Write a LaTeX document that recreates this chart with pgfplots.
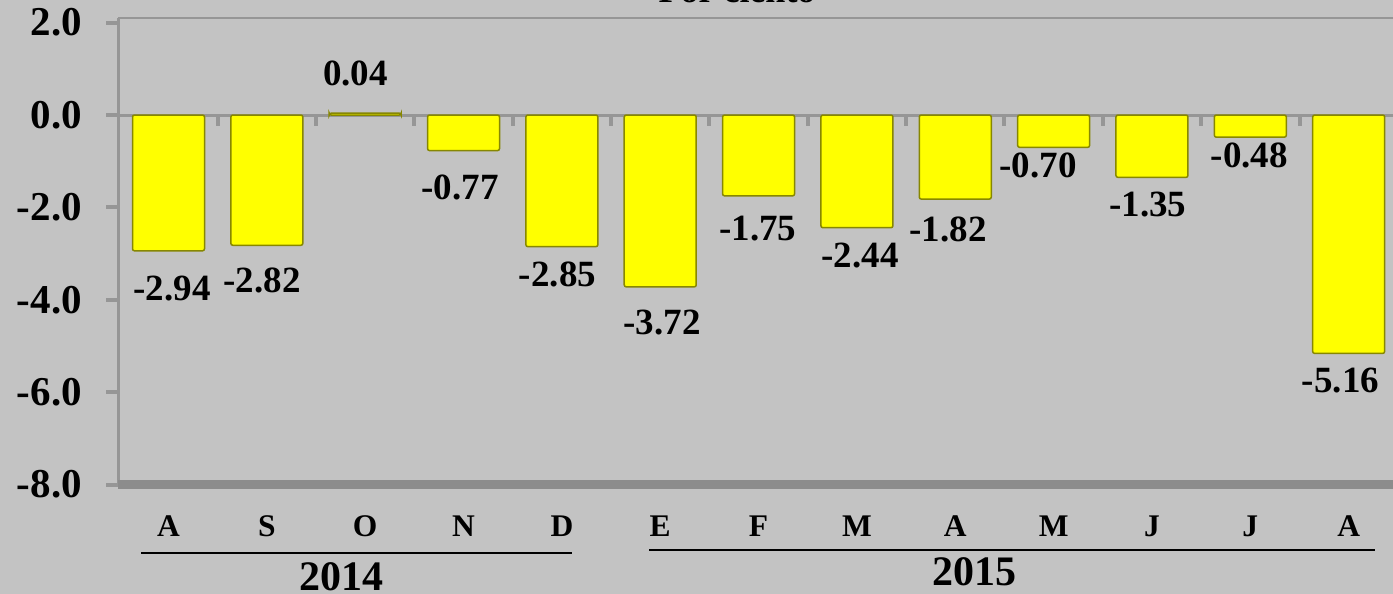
\documentclass[border=0pt]{standalone}
\usepackage{fontspec}
\setmainfont{Liberation Serif}
\usepackage{pgfplots}
\pgfplotsset{compat=1.18}
\usepackage{pgfplotstable}
\definecolor{bg}{RGB}{195,195,195}
\definecolor{frame}{RGB}{150,150,150}
\definecolor{framedark}{RGB}{140,140,140}
\definecolor{barY}{RGB}{255,255,0}
\definecolor{barE}{RGB}{135,135,0}

\pgfplotstableread{
x y
0 -2.94
1 -2.82
2 0.04
3 -0.77
4 -2.85
5 -3.72
6 -1.75
7 -2.44
8 -1.82
9 -0.70
10 -1.35
11 -0.48
12 -5.16
}\bars

\pgfplotstableread{
x y lab
0.036 -4.035 -2.94
0.951 -3.862 -2.82
1.901 0.628 0.04
2.964 -1.849 -0.77
3.955 -3.725 -2.85
5.018 -4.771 -3.72
5.993 -2.736 -1.75
7.031 -3.321 -2.44
7.926 -2.751 -1.82
8.841 -1.373 -0.70
9.959 -2.210 -1.35
10.991 -1.156 -0.48
11.917 -6.026 -5.16
}\labels

\begin{document}
\begin{tikzpicture}
\fill[bg] (0pt,0pt) rectangle (1393pt,-594pt);
\path[use as bounding box] (0pt,0pt) rectangle (1393pt,-594pt);
\clip (0pt,0pt) rectangle (1393pt,-594pt);
\node[anchor=base, inner sep=0pt, font=\fontsize{36}{40}\selectfont\bfseries] at (737pt,-3pt) {Por ciento};
\begin{axis}[
  at={(118pt,-484.6pt)}, anchor=south west,
  scale only axis, width=1289.7pt, height=466.6pt,
  xmin=-0.5135, xmax=12.6, ymin=-8, ymax=2.1,
  axis line style={draw=none},
  major tick length=0pt,
  ytick={-8,-6,-4,-2,0,2},
  y tick label style={anchor=east, inner sep=0pt, xshift=-36pt,
    font=\fontsize{41}{45}\selectfont\bfseries,
    /pgf/number format/fixed, /pgf/number format/fixed zerofill,
    /pgf/number format/precision=1, /pgf/number format/assume math mode=true},
  xtick={0,...,12},
  xticklabels={A,S,O,N,D,E,F,M,A,M,J,J,A},
  x tick label style={anchor=base, inner sep=0pt, yshift=-51.4pt,
    font=\fontsize{31.5}{35}\selectfont\bfseries},
  clip=false,
]
% frame
\draw[frame, line width=3pt] (rel axis cs:0,0) -- (rel axis cs:0,1);
\draw[frame, line width=2.5pt] (rel axis cs:0,1) -- (rel axis cs:1,1);
\draw[framedark, line width=9pt] (rel axis cs:0,0) -- (rel axis cs:1,0);
\pgfplotsinvokeforeach{-8,-6,-4,-2,0,2}{
  \draw[frame, line width=4pt] (axis cs:-0.5135,#1) -- ++(-12pt,0pt);
}
% zero line with category ticks
\draw[frame, line width=3pt] (axis cs:-0.5135,0) -- (axis cs:12.6,0);
\pgfplotsinvokeforeach{0.5,1.5,2.5,3.5,4.5,5.5,6.5,7.5,8.5,9.5,10.5,11.5}{
  \draw[frame, line width=4pt] (axis cs:#1,0) -- ++(0pt,-11pt);
}
\addplot[ybar, bar width=72pt, bar shift=0pt, fill=barY, draw=barE,
  line width=1.5pt, rounded corners=2pt] table[x=x,y=y]{\bars};
\addplot[only marks, mark=none, nodes near coords, point meta=explicit symbolic,
  nodes near coords align=vertical,
  every node near coord/.append style={inner sep=0pt, text=black,
    font=\fontsize{37}{40}\selectfont\bfseries}]
  table[x=x,y=y,meta=lab]{\labels};
% year groups
\draw[black, line width=2pt] (axis cs:-0.2796,-9.48) -- (axis cs:4.103,-9.48);
\draw[black, line width=2pt] (axis cs:4.886,-9.416) -- (axis cs:12.267,-9.416);
\node[anchor=base, inner sep=0pt, font=\fontsize{42}{46}\selectfont\bfseries] at (axis cs:1.754,-10.29) {2014};
\node[anchor=base, inner sep=0pt, font=\fontsize{42}{46}\selectfont\bfseries] at (axis cs:8.2,-10.18) {2015};
\end{axis}
\end{tikzpicture}
\end{document}
